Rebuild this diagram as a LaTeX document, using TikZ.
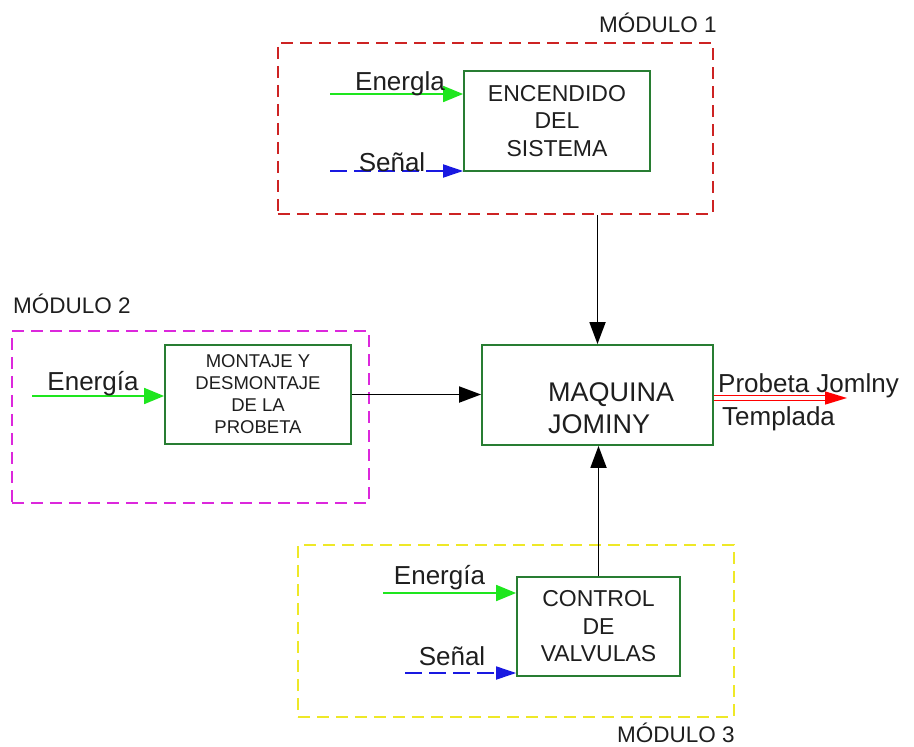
\documentclass[tikz,border=0pt]{standalone}
\usepackage{fontspec}
\setmainfont{Liberation Sans}
\usetikzlibrary{arrows.meta}
\definecolor{modred}{RGB}{205,35,35}
\definecolor{modmag}{RGB}{220,40,220}
\definecolor{modyel}{RGB}{238,232,40}
\definecolor{boxgreen}{RGB}{40,125,50}
\definecolor{engreen}{RGB}{30,230,30}
\definecolor{sigblue}{RGB}{25,25,225}
\definecolor{txt}{RGB}{30,30,30}
\tikzset{
  modbox/.style={draw, line width=1.8pt, dash pattern=on 12pt off 7pt, inner sep=0pt, anchor=north west},
  procbox/.style={draw=boxgreen, line width=1.8pt, inner sep=0pt, align=center, text=txt},
  modlabel/.style={font=\fontsize{22.5}{26}\selectfont, text=txt, inner sep=0pt},
  inlabel/.style={font=\fontsize{26}{30}\selectfont, text=txt, inner sep=0pt, anchor=base},
  energy/.style={engreen, line width=1.8pt, -{Triangle[length=20pt,width=16pt]}},
  signal/.style={sigblue, line width=1.8pt, dash pattern=on 17pt off 7pt, -{Triangle[length=20pt,width=13pt]}},
  flow/.style={black, line width=1.8pt, -{Triangle[length=22pt,width=16pt]}},
}
\begin{document}
\begin{tikzpicture}[x=1pt,y=-1pt]
\useasboundingbox (0,0) rectangle (914,747);
% module frames
\node[modbox, draw=modred, minimum width=435pt, minimum height=171pt] (m1) at (277,42) {};
\node[modbox, draw=modmag, minimum width=357pt, minimum height=172pt] (m2) at (11,330) {};
\node[modbox, draw=modyel, minimum width=436pt, minimum height=172pt] (m3) at (297,544) {};
\node[modlabel] (m1l) at (658,23) {MÓDULO 1};
\node[modlabel] (m2l) at (72,304) {MÓDULO 2};
\node[modlabel, anchor=base] (m3l) at (676,742) {MÓDULO 3};
% process boxes
\node[procbox, minimum width=186pt, minimum height=100pt, font=\fontsize{23}{27.5}\selectfont] (enc) at (557,121) {ENCENDIDO\\DEL\\SISTEMA};
\node[procbox, minimum width=186pt, minimum height=99pt, font=\fontsize{18.5}{22}\selectfont] (mon) at (258,394.5) {MONTAJE Y\\DESMONTAJE\\DE LA\\PROBETA};
\node[procbox, minimum width=163pt, minimum height=99pt, font=\fontsize{23}{27.5}\selectfont] (ctl) at (598.5,626.5) {CONTROL\\DE\\VALVULAS};
\node[procbox, minimum width=231pt, minimum height=100pt] (maq) at (597.5,395) {};
\node[inner sep=0pt, align=left, anchor=base west, text=txt, font=\fontsize{27}{32}\selectfont] (maqt) at (548,433) {MAQUINA\\JOMINY};
% inputs module 1
\coordinate (e1) at (330,94);
\coordinate (s1) at (330,171);
\draw[energy] (e1) -- (e1 -| enc.west);
\draw[signal] (s1) -- (s1 -| enc.west);
\node[inlabel] (e1l) at (400,90) {Energla};
\node[inlabel] (s1l) at (392,171) {Señal};
% inputs module 2
\coordinate (e2) at (32,396);
\draw[energy] (e2) -- (e2 -| mon.west);
\node[inlabel] (e2l) at (93,390) {Energía};
% inputs module 3
\coordinate (e3) at (383,593);
\coordinate (s3) at (405,673);
\draw[energy] (e3) -- (e3 -| ctl.west);
\draw[signal] (s3) -- (s3 -| ctl.west);
\node[inlabel] (e3l) at (439.5,584) {Energía};
\node[inlabel] (s3l) at (452,665) {Señal};
% flows to machine
\draw[flow] (m1.south -| maq.north) -- (maq.north);
\draw[flow] (mon.east) -- (mon.east -| maq.west);
\draw[flow] (ctl.north) -- (ctl.north |- maq.south);
% output
\coordinate (out) at (847,398);
\draw[red, line width=1.4pt, double=white, double distance=3.5pt, -{Triangle[length=22pt,width=13pt,fill=red]}] (out -| maq.east) -- (out);
\node[inlabel, anchor=base west] (ol1) at (718,392) {Probeta Jomlny};
\node[inlabel, anchor=base west] (ol2) at (722,425) {Templada};
\end{tikzpicture}
\end{document}
